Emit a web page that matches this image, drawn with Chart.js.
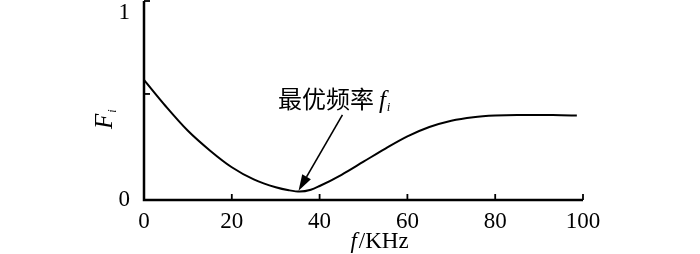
<!DOCTYPE html>
<html>
<head>
<meta charset="utf-8">
<script src="https://cdn.jsdelivr.net/npm/chart.js@4"></script>
<style>
html,body{margin:0;padding:0;background:#fff;}
#wrap{width:700px;height:254px;position:relative;}
</style>
</head>
<body>
<div id="wrap"><canvas id="c" width="700" height="254"></canvas></div>
<script>
// ---- data ----
const freqKHz = [0, 5, 10, 15, 20, 25, 30, 33, 35.5, 38, 40, 45, 50, 55, 60, 65, 70, 75, 80, 85, 90, 95, 98.6];
const fiValues = [0.642, 0.50, 0.37, 0.265, 0.175, 0.11, 0.068, 0.052, 0.045, 0.055, 0.075, 0.135, 0.205, 0.275, 0.340, 0.390, 0.424, 0.443, 0.452, 0.455, 0.455, 0.453, 0.452];
const xTickValues = [0, 20, 40, 60, 80, 100];
const yTickLabels = [0, 1];
const yTickMarks = [0, 0.567, 1.064];
const annotationText = "最优频率";
const annotationSymbol = "f";
const annotationSub = "i";
const arrowFrom = [45.2, 0.455];
const arrowTo = [35.2, 0.05];
const annotationPos = [30.5, 0.49];
const xTitleItalic = "f";
const xTitleRest = "/KHz";
const yTitle = "F";
const yTitleSub = "i";

const serif = "'Liberation Serif','DejaVu Serif',serif";
const cjk = "'Noto Sans CJK SC','Noto Sans CJK JP',sans-serif";

const overlay = {
  id: 'overlay',
  afterDraw(chart) {
    const ctx = chart.ctx;
    const xs = chart.scales.x, ys = chart.scales.y;
    const ca = chart.chartArea;
    ctx.save();
    ctx.strokeStyle = '#000';
    ctx.fillStyle = '#000';
    // axes
    ctx.lineWidth = 2.5;
    ctx.beginPath();
    ctx.moveTo(ca.left, ys.getPixelForValue(yTickMarks[yTickMarks.length-1]));
    ctx.lineTo(ca.left, ys.getPixelForValue(0));
    ctx.lineTo(xs.getPixelForValue(100), ys.getPixelForValue(0));
    ctx.stroke();
    // ticks
    ctx.lineWidth = 1.8;
    xTickValues.forEach(v => {
      const px = xs.getPixelForValue(v);
      ctx.beginPath();
      ctx.moveTo(px, ca.bottom);
      ctx.lineTo(px, ca.bottom - 6);
      ctx.stroke();
    });
    yTickMarks.forEach(v => {
      const py = ys.getPixelForValue(v);
      ctx.beginPath();
      ctx.moveTo(ca.left, py);
      ctx.lineTo(ca.left + 6, py);
      ctx.stroke();
    });
    // arrow
    const x1 = xs.getPixelForValue(arrowFrom[0]), y1 = ys.getPixelForValue(arrowFrom[1]);
    const x2 = xs.getPixelForValue(arrowTo[0]), y2 = ys.getPixelForValue(arrowTo[1]);
    const ang = Math.atan2(y2 - y1, x2 - x1);
    const hl = 16, hw = 5;
    const bx = x2 - hl * Math.cos(ang), by = y2 - hl * Math.sin(ang);
    ctx.lineWidth = 1.6;
    ctx.beginPath();
    ctx.moveTo(x1, y1);
    ctx.lineTo(bx, by);
    ctx.stroke();
    ctx.beginPath();
    ctx.moveTo(x2, y2);
    ctx.lineTo(bx + hw * Math.sin(ang), by - hw * Math.cos(ang));
    ctx.lineTo(bx - hw * Math.sin(ang), by + hw * Math.cos(ang));
    ctx.closePath();
    ctx.fill();
    // annotation text
    let tx = xs.getPixelForValue(annotationPos[0]);
    const ty = ys.getPixelForValue(annotationPos[1]);
    ctx.textBaseline = 'alphabetic';
    ctx.textAlign = 'left';
    ctx.font = "24px " + cjk;
    ctx.fillText(annotationText, tx, ty);
    tx += ctx.measureText(annotationText).width + 5;
    ctx.font = "italic 25px " + serif;
    ctx.fillText(annotationSymbol, tx, ty);
    tx += ctx.measureText(annotationSymbol).width + 1;
    ctx.font = "italic 13px " + serif;
    ctx.fillText(annotationSub, tx, ty + 3);
    // x title
    ctx.font = "italic 23px " + serif;
    const w1 = ctx.measureText(xTitleItalic).width;
    ctx.font = "23px " + serif;
    const w2 = ctx.measureText(xTitleRest).width;
    const cx = (xs.getPixelForValue(0) + xs.getPixelForValue(100)) / 2 + 15;
    let sx = cx - (w1 + w2) / 2;
    ctx.font = "italic 23px " + serif;
    ctx.fillText(xTitleItalic, sx, 254 - 6);
    ctx.font = "23px " + serif;
    ctx.fillText(xTitleRest, sx + w1 + 2, 254 - 6);
    // y title rotated
    ctx.save();
    ctx.translate(112, (ys.getPixelForValue(0) + ys.getPixelForValue(1)) / 2 + 12);
    ctx.rotate(-Math.PI / 2);
    ctx.font = "italic 25px " + serif;
    ctx.textAlign = 'left';
    const fw = ctx.measureText(yTitle).width;
    ctx.fillText(yTitle, -fw / 2 - 3, 0);
    ctx.font = "italic 12px " + serif;
    ctx.fillText(yTitleSub, fw / 2 - 2, 4);
    ctx.restore();
    ctx.restore();
  }
};

new Chart(document.getElementById('c'), {
  type: 'line',
  data: {
    datasets: [{
      data: freqKHz.map((x, i) => ({x: x, y: fiValues[i]})),
      borderColor: '#000',
      borderWidth: 2,
      pointRadius: 0,
      tension: 0.4,
      cubicInterpolationMode: 'monotone',
      fill: false
    }]
  },
  options: {
    responsive: false,
    animation: false,
    events: [],
    layout: { padding: { left: 0, right: 117, top: 1, bottom: 0 } },
    plugins: { legend: { display: false }, tooltip: { enabled: false } },
    scales: {
      x: {
        type: 'linear', min: 0, max: 100,
        border: { display: false },
        grid: { display: false },
        afterFit(s) { s.height = 54; s.paddingLeft = 0; s.paddingRight = 0; },
        afterBuildTicks(s) { s.ticks = xTickValues.map(v => ({value: v})); },
        ticks: { color: '#000', font: { family: serif, size: 23 }, padding: 0, maxRotation: 0, autoSkip: false }
      },
      y: {
        type: 'linear', min: 0, max: 1.064,
        border: { display: false },
        grid: { display: false },
        afterFit(s) { s.width = 144; s.paddingTop = 0; s.paddingBottom = 0; },
        afterBuildTicks(s) { s.ticks = yTickLabels.map(v => ({value: v})); },
        ticks: { color: '#000', font: { family: serif, size: 23 }, padding: 6 }
      }
    }
  },
  plugins: [overlay]
});
</script>
</body>
</html>
